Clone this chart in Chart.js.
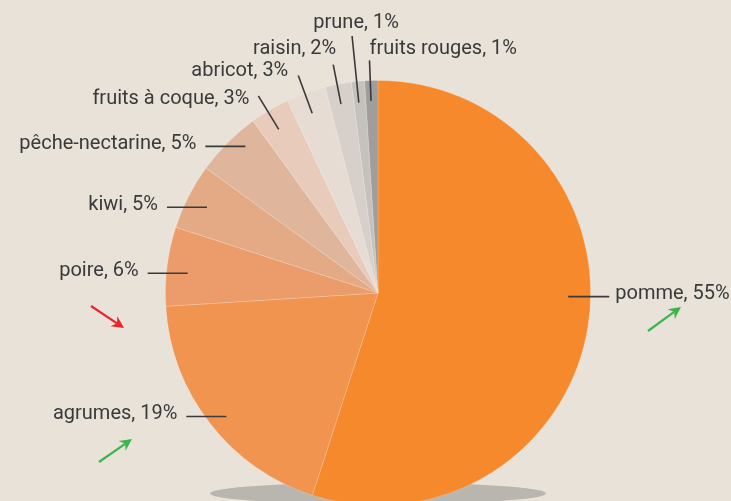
<!DOCTYPE html>
<html>
<head>
<meta charset="utf-8">
<script src="https://cdn.jsdelivr.net/npm/chart.js@4"></script>
<style>
  html, body { margin: 0; padding: 0; background: #e8e2d9; overflow: hidden; }
  #wrap { position: relative; width: 731px; height: 540px; }
</style>
</head>
<body>
<div id="wrap"><canvas id="c"></canvas></div>
<script>
// ---- data ----
const categories = ["pomme", "agrumes", "poire", "kiwi", "pêche-nectarine", "fruits à coque", "abricot", "raisin", "prune", "fruits rouges"];
const shares = [55, 19, 6, 5, 5, 3, 3, 2, 1, 1];
const sliceColors = ["#f5892c", "#f0944f", "#eb9c6a", "#e4aa85", "#dfb59c", "#e8cbbb", "#e7dcd4", "#d7d0ca", "#c5c1bd", "#a09e9c"];

// ---- label layout (placement styling only) ----
// kind: 'left' / 'right' horizontal leader, 'radial' leader; frac: position within slice; r: inner radius ratio
const labelLayout = [
  { kind: "right", frac: 0.46, r: 0.895 },
  { kind: "left", frac: 0.48, r: 0.92 },
  { kind: "left", frac: 0.44, r: 0.90 },
  { kind: "left", frac: 0.48, r: 0.90 },
  { kind: "left", frac: 0.66, r: 0.93 },
  { kind: "radial", frac: 0.44, r: 0.90, out: 1.085, align: "right", dx: -9, dy: 8 },
  { kind: "radial", frac: 0.47, r: 0.90, out: 1.09, align: "right", dx: -10, dy: 1 },
  { kind: "radial", frac: 0.46, r: 0.905, out: 1.095, align: "right", dx: 3, dy: -11 },
  { kind: "radial", frac: 0.40, r: 0.90, out: 1.215, align: "center", dx: 4, dy: -8 },
  { kind: "radial", frac: 0.42, r: 0.905, out: 1.095, align: "left", dx: 0, dy: -6 }
];
// decorative arrows, offsets from pie centre (px)
const arrows = [
  { color: "#e8262b", from: [-287, 13], to: [-254, 35] },
  { color: "#3db54a", from: [-279, 169], to: [-246, 146] },
  { color: "#3db54a", from: [270, 38], to: [303, 14] }
];

const FONT = '20px Roboto, "Noto Sans", sans-serif';

const shadowPlugin = {
  id: "shadow",
  beforeDatasetsDraw(chart) {
    const arc = chart.getDatasetMeta(0).data[0];
    const { x, y, outerRadius: R } = arc.getProps(["x", "y", "outerRadius"], true);
    const ctx = chart.ctx;
    ctx.save();
    ctx.fillStyle = "#b9b6b0";
    ctx.beginPath();
    ctx.ellipse(x, y + 0.943 * R, 0.79 * R, 0.052 * R, 0, 0, Math.PI * 2);
    ctx.fill();
    ctx.restore();
  }
};

const labelPlugin = {
  id: "labels",
  afterDatasetsDraw(chart) {
    const ctx = chart.ctx;
    const meta = chart.getDatasetMeta(0);
    ctx.save();
    ctx.font = FONT;
    ctx.fillStyle = "#3a3a3a";
    ctx.strokeStyle = "#3a3a3a";
    ctx.lineWidth = 1.6;
    ctx.textBaseline = "alphabetic";
    meta.data.forEach((arc, i) => {
      const p = arc.getProps(["x", "y", "startAngle", "endAngle", "outerRadius"], true);
      const L = labelLayout[i];
      const a = p.startAngle + (p.endAngle - p.startAngle) * L.frac;
      const R = p.outerRadius;
      const ix = p.x + Math.cos(a) * R * L.r;
      const iy = p.y + Math.sin(a) * R * L.r;
      const text = categories[i] + ", " + shares[i] + "%";
      ctx.beginPath();
      if (L.kind === "left") {
        ctx.moveTo(ix, iy); ctx.lineTo(ix - 40, iy); ctx.stroke();
        ctx.textAlign = "right";
        ctx.fillText(text, ix - 49, iy + 2.5);
      } else if (L.kind === "right") {
        ctx.moveTo(ix, iy); ctx.lineTo(ix + 41, iy); ctx.stroke();
        ctx.textAlign = "left";
        ctx.fillText(text, ix + 47, iy + 2.5);
      } else {
        const ox = p.x + Math.cos(a) * R * L.out;
        const oy = p.y + Math.sin(a) * R * L.out;
        ctx.moveTo(ix, iy); ctx.lineTo(ox, oy); ctx.stroke();
        ctx.textAlign = L.align;
        ctx.fillText(text, ox + L.dx, oy + L.dy);
      }
    });
    // arrows
    const c0 = meta.data[0].getProps(["x", "y"], true);
    arrows.forEach(ar => {
      const x1 = c0.x + ar.from[0], y1 = c0.y + ar.from[1];
      const x2 = c0.x + ar.to[0], y2 = c0.y + ar.to[1];
      const ang = Math.atan2(y2 - y1, x2 - x1);
      const hl = 12, hw = 6;
      ctx.strokeStyle = ar.color; ctx.fillStyle = ar.color;
      ctx.lineWidth = 2.2;
      ctx.beginPath();
      ctx.moveTo(x1, y1);
      ctx.lineTo(x2 - Math.cos(ang) * hl * 0.7, y2 - Math.sin(ang) * hl * 0.7);
      ctx.stroke();
      const bx = x2 - Math.cos(ang) * hl, by = y2 - Math.sin(ang) * hl;
      const nx = -Math.sin(ang), ny = Math.cos(ang);
      const mx = x2 - Math.cos(ang) * hl * 0.7, my = y2 - Math.sin(ang) * hl * 0.7;
      ctx.beginPath();
      ctx.moveTo(x2, y2);
      ctx.lineTo(bx + nx * hw, by + ny * hw);
      ctx.lineTo(mx, my);
      ctx.lineTo(bx - nx * hw, by - ny * hw);
      ctx.closePath();
      ctx.fill();
    });
    ctx.restore();
  }
};

new Chart(document.getElementById("c"), {
  type: "pie",
  data: {
    labels: categories,
    datasets: [{
      data: shares,
      backgroundColor: sliceColors,
      borderColor: "rgba(255,255,255,0.22)",
      borderWidth: 0.8
    }]
  },
  options: {
    responsive: true,
    maintainAspectRatio: false,
    animation: false,
    layout: { padding: { top: 80, bottom: 34, left: 165, right: 140 } },
    plugins: { legend: { display: false }, tooltip: { enabled: false } }
  },
  plugins: [shadowPlugin, labelPlugin]
});
</script>
</body>
</html>
